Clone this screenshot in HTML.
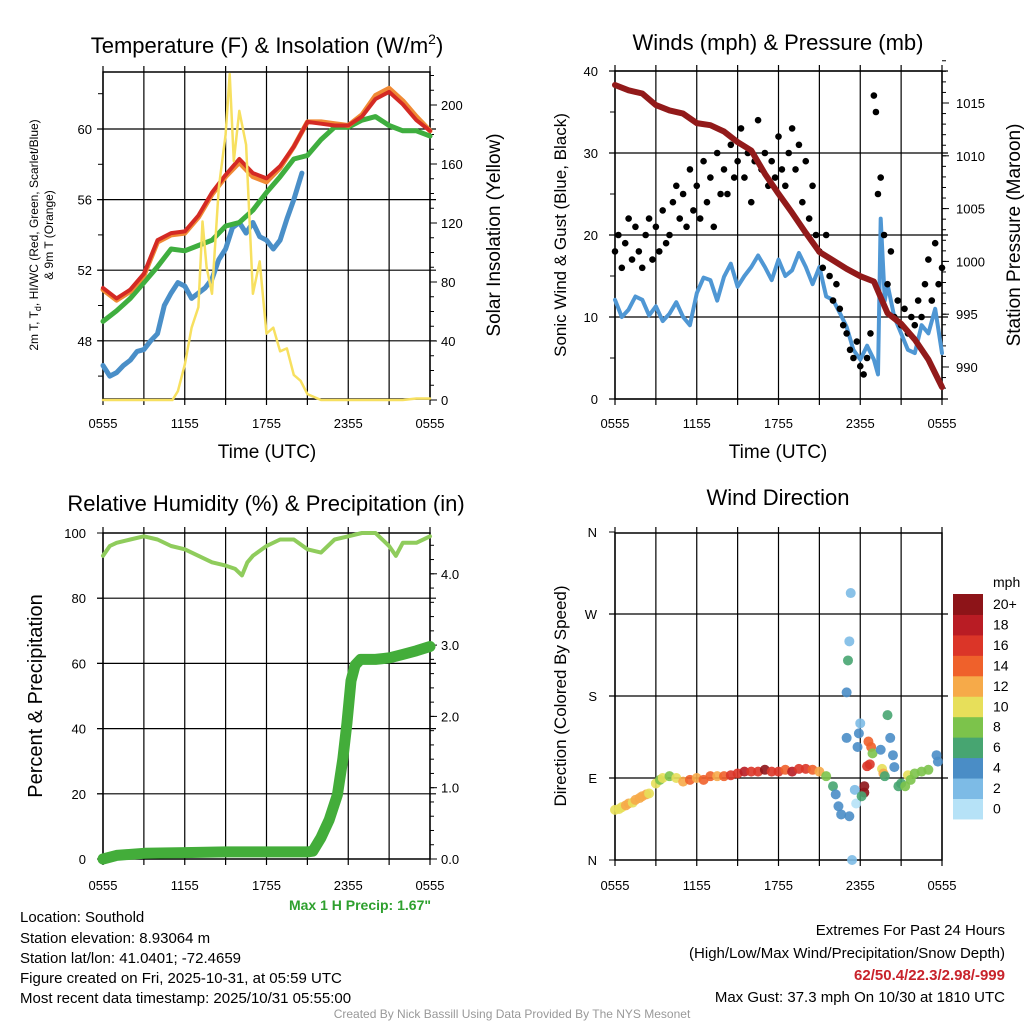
<!DOCTYPE html>
<html><head><meta charset="utf-8"><style>
html,body{margin:0;padding:0;background:#fff;}
svg{display:block;font-family:"Liberation Sans",sans-serif;}
</style></head><body>
<svg id="s" width="1024" height="1024" viewBox="0 0 1024 1024">
<rect x="0" y="0" width="1024" height="1024" fill="#fff"/>
<text x="267" y="53" font-size="22" text-anchor="middle">Temperature (F) &amp; Insolation (W/m<tspan font-size="14" dy="-9">2</tspan><tspan dy="9">)</tspan></text>
<text x="778" y="50" font-size="22" text-anchor="middle">Winds (mph) &amp; Pressure (mb)</text>
<text x="266" y="511" font-size="22" text-anchor="middle">Relative Humidity (%) &amp; Precipitation (in)</text>
<text x="778" y="505" font-size="22" text-anchor="middle">Wind Direction</text>
<text x="267" y="458" font-size="19" text-anchor="middle">Time (UTC)</text>
<text x="778" y="458" font-size="19" text-anchor="middle">Time (UTC)</text>
<text transform="translate(38,235) rotate(-90)" font-size="12" text-anchor="middle">2m T, T<tspan font-size="9" dy="3">d</tspan><tspan dy="-3">, HI/WC (Red, Green, Scarlet/Blue)</tspan></text>
<text transform="translate(53,235) rotate(-90)" font-size="12" text-anchor="middle">&amp; 9m T (Orange)</text>
<text transform="translate(500,235) rotate(-90)" font-size="19" text-anchor="middle">Solar Insolation (Yellow)</text>
<text transform="translate(566,235) rotate(-90)" font-size="17" text-anchor="middle">Sonic Wind &amp; Gust (Blue, Black)</text>
<text transform="translate(1020,235) rotate(-90)" font-size="19" text-anchor="middle">Station Pressure (Maroon)</text>
<text transform="translate(42,696) rotate(-90)" font-size="20" text-anchor="middle">Percent &amp; Precipitation</text>
<text transform="translate(566,696) rotate(-90)" font-size="17" text-anchor="middle">Direction (Colored By Speed)</text>
<text x="431" y="910" font-size="14" font-weight="bold" fill="#2ea02e" text-anchor="end">Max 1 H Precip: 1.67"</text>
<g font-size="15">
<text x="20" y="922">Location: Southold</text>
<text x="20" y="943">Station elevation: 8.93064 m</text>
<text x="20" y="963">Station lat/lon: 41.0401; -72.4659</text>
<text x="20" y="983">Figure created on Fri, 2025-10-31, at 05:59 UTC</text>
<text x="20" y="1003">Most recent data timestamp: 2025/10/31 05:55:00</text>
</g>
<g font-size="15" text-anchor="end">
<text x="1005" y="935">Extremes For Past 24 Hours</text>
<text x="1005" y="958">(High/Low/Max Wind/Precipitation/Snow Depth)</text>
<text x="1005" y="980" font-weight="bold" fill="#c8232b">62/50.4/22.3/2.98/-999</text>
<text x="1005" y="1002">Max Gust: 37.3 mph On 10/30 at 1810 UTC</text>
</g>
<text x="512" y="1018" font-size="12" fill="#999" text-anchor="middle">Created By Nick Bassill Using Data Provided By The NYS Mesonet</text>
<text x="993" y="587" font-size="14">mph</text>
</svg>
<script>
// ---- Temperature panel data (hours since 0555 UTC) ----
const hours = [0,1,2,3,4,5,6,7,8,9,10,11,12,13,14,15,16,17,18,19,20,21,22,23,24];
const tempRed = [51.0,50.4,50.9,51.8,53.7,54.1,54.2,55.1,56.4,57.4,58.3,57.5,57.2,57.9,59.0,60.4,60.3,60.2,60.2,60.7,61.7,62.1,61.4,60.5,59.9];
const tempOrange = [50.9,50.3,50.8,51.7,53.6,54.0,54.1,55.0,56.3,57.3,58.1,57.3,57.0,57.8,59.0,60.4,60.4,60.3,60.2,60.8,61.9,62.3,61.6,60.7,59.9];
const dewGreen = [49.1,49.7,50.4,51.3,52.2,53.2,53.1,53.4,53.7,54.5,54.7,55.4,56.4,57.3,58.3,58.5,59.4,60.1,60.1,60.5,60.7,60.2,59.9,59.9,59.6];
const hiBlueHours = [0,0.5,1,1.5,2,2.5,3,3.5,4,4.5,5,5.5,6,6.5,7,7.5,8,8.5,9,9.5,10,10.5,11,11.5,12,12.5,13,13.5,14,14.6];
const hiBlue = [46.6,46.0,46.2,46.6,46.9,47.4,47.5,48.0,48.4,50.0,50.7,51.3,51.1,50.4,50.7,51.0,51.5,52.6,53.2,54.4,54.7,54.1,54.7,53.9,53.7,53.2,53.7,54.9,56.0,57.5];
const solarHours = [0,5.1,5.5,6,6.5,7,7.3,7.6,8,8.5,9,9.3,9.6,10,10.5,11,11.5,12,12.5,13,13.5,14,14.5,15,16,22,23,24];
const solar = [0,0,6,24,49,63,121,90,72,144,180,221,162,196,173,72,94,45,49,33,35,17,13,4,0,0,1,1];
const tempTicks = [48,52,56,60];
const solarTicks = [0,40,80,120,160,200];
const timeTickLabels = ["0555","1155","1755","2355","0555"];
// ---- Wind panel data ----
const pressure = [1016.7,1016.2,1015.9,1014.8,1014.3,1014.0,1013.1,1012.9,1012.3,1011.3,1010.5,1008.3,1006.4,1004.6,1002.7,1000.9,1000.1,999.3,998.6,998.1,995.1,994.1,992.6,990.7,988.1];
const windHours = [0,0.5,1,1.5,2,2.5,3,3.5,4,4.5,5,5.5,6,6.5,7,7.5,8,8.5,9,9.5,10,10.5,11,11.5,12,12.5,13,13.5,14,14.5,15,15.5,16,16.5,17,17.5,18,18.5,19,19.3,19.5,19.8,20,20.5,21,21.5,22,22.5,23,23.5,24];
const windSpeed = [12.1,10.0,10.9,12.5,12.1,10.2,11.3,9.5,10.4,11.8,10.0,9.0,12.9,14.8,14.5,12.0,14.9,16.5,13.7,15.0,16.1,17.5,16.1,14.5,17.0,15.0,15.7,17.8,16.1,14.0,16.1,12.5,12.1,10.5,8.8,6.0,4.8,6.5,4.8,3.0,22.0,12.0,14.0,10.0,8.0,6.0,5.6,9.0,8.0,11.0,5.6];
const gustHours = [0,0.25,0.5,0.75,1,1.25,1.5,1.75,2,2.25,2.5,2.75,3,3.25,3.5,3.75,4,4.25,4.5,4.75,5,5.25,5.5,5.75,6,6.25,6.5,6.75,7,7.25,7.5,7.75,8,8.25,8.5,8.75,9,9.25,9.5,9.75,10,10.25,10.5,10.75,11,11.25,11.5,11.75,12,12.25,12.5,12.75,13,13.25,13.5,13.75,14,14.25,14.5,14.75,15,15.25,15.5,15.75,16,16.25,16.5,16.75,17,17.25,17.5,17.75,18,18.25,18.5,18.75,19,19.15,19.3,19.5,19.75,20,20.25,20.5,20.75,21,21.25,21.5,21.75,22,22.25,22.5,22.75,23,23.25,23.5,23.75,24];
const gust = [18,20,16,19,22,17,21,18,16,20,22,17,21,18,23,19,20,24,26,22,25,21,28,23,26,22,29,24,27,21,30,25,28,25,31,27,29,33,27,30,24,29,34,28,30,26,29,27,32,28,26,30,33,28,31,24,29,22,26,20,18,16,20,15,12,14,11,9,8,6,5,7,4,3,5,8,37,35,25,27,20,14,18,10,12,9,11,8,10,9,12,10,14,17,12,19,14,16,10,12];
const windTicks = [0,10,20,30,40];
const pressTicks = [990,995,1000,1005,1010,1015];
// ---- RH / precip data ----
const rhHours = [0,0.5,1,2,3,4,5,6,7,8,9,9.7,10.2,10.6,11,12,13,14,15,16,17,18,19,20,21,21.5,22,23,24];
const rh = [93,96,97,98,99,98,96,95,93,91,90,89,87,91,93,96,98,98,95,94,98,99,100,100,96,93,97,97,99];
const precipHours = [0,1,3,6,9,12,15,15.4,16,16.6,17.2,17.6,17.9,18.2,18.5,18.9,20,21,22,23,24];
const precip = [0,0.05,0.08,0.09,0.10,0.10,0.10,0.11,0.3,0.55,0.9,1.4,1.9,2.5,2.72,2.8,2.8,2.82,2.87,2.92,2.98];
const rhTicks = [0,20,40,60,80,100];
const precipTicks = ["0.0","1.0","2.0","3.0","4.0"];
// ---- Wind direction data ----
const dirHours = [0,0.3,0.5,0.8,1,1.3,1.5,1.8,2,2.3,2.5,3,3.3,3.5,4,4.5,5,5.5,6,6.5,7,7.5,8,8.5,9,9.5,10,10.5,11,11.5,12,12.5,13,13.5,14,14.5,15,15.5,16,16.2,16.4,16.6,17.2,17.4,17.0,17.0,17.1,17.2,17.3,17.7,17.6,18.0,17.9,17.8,18.3,18.3,18.1,18.6,18.8,18.9,18.5,18.7,19.5,19.6,19.7,19.8,20.0,20.2,20.4,20.5,20.8,21,21.3,21.5,21.7,22,22.5,23,23.6,23.7];
const dirDeg = [55,56,58,60,62,63,66,68,70,72,73,84,88,90,92,90,86,88,90,88,92,92,92,93,95,97,97,97,99,97,97,99,97,100,100,99,97,92,81,72,59,50,48,0,134,184,219,240,293,62,77,150,139,124,81,74,70,130,124,117,103,105,121,100,95,92,159,134,115,102,81,84,81,93,88,95,97,99,115,108];
const dirSpeed = [11,10,10,12,12,11,12,13,13,12,11,10,9,10,9,11,13,14,13,14,15,13,15,16,17,18,16,17,20,16,16,15,18,17,16,14,12,8,6,4,4,4,4,2,4,4,6,2,2,1,2,2,4,4,20,20,7,14,14,8,16,16,4,10,12,6,6,4,4,4,6,6,8,10,8,8,8,8,4,4];
const dirLabels = ["N","E","S","W","N"];
const speedBins = ["0","2","4","6","8","10","12","14","16","18","20+"];
const binColors = ["#b6e2f7","#7dbbe6","#4a8dc6","#47a571","#7cc34b","#e7df5a","#f6aa49","#ef612b","#db3528","#b91c24","#8d1418"];

const svg = document.getElementById('s');
const NS = 'http://www.w3.org/2000/svg';
function mk(tag, attrs, name, parent) {
  const el = document.createElementNS(NS, tag);
  for (const k in attrs) el.setAttribute(k, attrs[k]);
  
  
  (parent || svg).appendChild(el);
  return el;
}
function txt(x, y, s, anchor, size, name, extra) {
  const t = mk('text', Object.assign({x: x, y: y, 'font-size': size, 'text-anchor': anchor}, extra || {}), name);
  t.textContent = s;
  return t;
}
function poly(xs, ys, fx, fy, stroke, w, name) {
  const pts = xs.map((h, i) => fx(h).toFixed(1) + ',' + fy(ys[i]).toFixed(1)).join(' ');
  return mk('polyline', {points: pts, fill: 'none', stroke: stroke, 'stroke-width': w, 'stroke-linejoin': 'round', 'stroke-linecap': 'round'}, name);
}
function frame(L, T, R, B, name) {
  const g = mk('g', {}, name + '-grid');
  for (let i = 0; i <= 8; i++) {
    const x = L + (R - L) * i / 8;
    mk('line', {x1: x, y1: T - 6, x2: x, y2: B + 6, stroke: '#000', 'stroke-width': 1.2}, name + '-vgrid', g);
  }
  mk('rect', {x: L, y: T, width: R - L, height: B - T, fill: 'none', stroke: '#000', 'stroke-width': 1.5}, name + '-frame', g);
}
function hgrid(L, R, y, name) {
  mk('line', {x1: L - 6, y1: y, x2: R + 6, y2: y, stroke: '#000', 'stroke-width': 1.2}, name);
}
function timeLabels(L, R, y, name) {
  timeTickLabels.forEach((s, i) => txt(L + (R - L) * i / 4, y, s, 'middle', 13, name));
}

// ===== Panel 1 =====
const x1 = h => 103 + h * 327 / 24;
const yT = t => 129 + (60 - t) * 17.65;
const yS = w => 400 - w * 59 / 40;
frame(103, 72, 430, 399, 'temp-panel');
tempTicks.forEach(t => { hgrid(103, 430, yT(t), 'temp-hgrid'); txt(92, yT(t) + 5, String(t), 'end', 13, 'temp-tick-label'); });
for (let t = 46; t <= 62; t += 2) mk('line', {x1: 98, y1: yT(t), x2: 103, y2: yT(t), stroke: '#000'}, 'temp-minor-tick');
solarTicks.forEach(w => { mk('line', {x1: 430, y1: yS(w), x2: 437, y2: yS(w), stroke: '#000'}, 'solar-tick'); txt(441, yS(w) + 5, String(w), 'start', 13, 'solar-tick-label'); });
for (let w = 10; w <= 220; w += 10) mk('line', {x1: 430, y1: yS(w), x2: 434, y2: yS(w), stroke: '#000'}, 'solar-minor-tick');
timeLabels(103, 430, 428, 'temp-time-label');
poly(hiBlueHours, hiBlue, x1, yT, '#4a8fc8', 5, 'hi-wc-line');
poly(hours, dewGreen, x1, yT, '#3fae3f', 5, 'dewpoint-line');
poly(hours, tempOrange, x1, yT, '#f08a35', 5, 'temp-9m-line');
poly(hours, tempRed, x1, yT, '#d42a24', 4, 'temp-2m-line');
poly(solarHours, solar, x1, yS, '#f7e060', 2.5, 'insolation-line');

// ===== Panel 2 =====
const x2 = h => 615 + h * 327 / 24;
const yW = m => 399 - m * 8.2;
const yP = p => 367 - (p - 990) * 10.56;
frame(615, 71, 942, 399, 'wind-panel');
windTicks.forEach(m => { hgrid(615, 942, yW(m), 'wind-hgrid'); txt(598, yW(m) + 5, String(m), 'end', 13, 'wind-tick-label'); });
for (let m = 5; m <= 35; m += 10) mk('line', {x1: 610, y1: yW(m), x2: 615, y2: yW(m), stroke: '#000'}, 'wind-minor-tick');
pressTicks.forEach(p => { mk('line', {x1: 942, y1: yP(p), x2: 949, y2: yP(p), stroke: '#000'}, 'pressure-tick'); txt(956, yP(p) + 5, String(p), 'start', 13, 'pressure-tick-label'); });
for (let p = 988; p <= 1019; p++) mk('line', {x1: 942, y1: yP(p), x2: 946, y2: yP(p), stroke: '#000'}, 'pressure-minor-tick');
timeLabels(615, 942, 428, 'wind-time-label');
poly(windHours, windSpeed, x2, yW, '#4f97d4', 4, 'sonic-wind-line');
gustHours.forEach((h, i) => {
  const c = mk('circle', {cx: x2(h), cy: yW(gust[i]), r: 3.3, fill: '#000'}, 'gust-point');
});
poly(hours, pressure, x2, yP, '#921a1a', 6, 'pressure-line');

// ===== Panel 3 =====
const yR = r => 859 - r * 3.26;
const yIn = v => 859 - v * 71.3;
frame(103, 533, 430, 859, 'rh-panel');
rhTicks.forEach(r => { if (r > 0 && r < 100) hgrid(103, 430, yR(r), 'rh-hgrid'); txt(86, yR(r) + 5, String(r), 'end', 13, 'rh-tick-label'); mk('line', {x1: 97, y1: yR(r), x2: 103, y2: yR(r), stroke: '#000'}, 'rh-tick'); });
precipTicks.forEach(s => { const v = parseFloat(s); mk('line', {x1: 430, y1: yIn(v), x2: 437, y2: yIn(v), stroke: '#000'}, 'precip-tick'); txt(441, yIn(v) + 5, s, 'start', 13, 'precip-tick-label'); });
for (let v = 0.2; v < 4.5; v += 0.2) mk('line', {x1: 430, y1: yIn(v), x2: 434, y2: yIn(v), stroke: '#000'}, 'precip-minor-tick');
timeLabels(103, 430, 890, 'rh-time-label');
poly(rhHours, rh, x1, yR, '#8fcc5c', 4, 'rh-line');
poly(precipHours, precip, x1, yIn, '#43ad3a', 11, 'precip-line');

// ===== Panel 4 =====
const yD = d => 860 - d * 82 / 90;
frame(615, 533, 942, 860, 'wdir-panel');
dirLabels.forEach((s, i) => { const d = [0, 90, 180, 270, 360][i]; if (i > 0 && i < 4) hgrid(615, 942, yD(d), 'wdir-hgrid'); mk('line', {x1: 609, y1: yD(d), x2: 615, y2: yD(d), stroke: '#000'}, 'wdir-tick'); txt(597, yD(d) + 5, s, 'end', 13, 'wdir-tick-label'); });
timeLabels(615, 942, 890, 'wdir-time-label');
function binOf(s) { return Math.min(10, Math.floor(s / 2)); }
dirHours.forEach((h, i) => {
  const c = mk('circle', {cx: x2(h), cy: yD(dirDeg[i]), r: 5, fill: binColors[binOf(dirSpeed[i])], 'fill-opacity': 0.9}, 'wdir-point');
});
// colorbar
const cbTop = 594, cbH = 20.45;
speedBins.forEach((s, i) => {
  const k = 10 - i;
  mk('rect', {x: 953, y: cbTop + k * cbH, width: 30, height: cbH + 0.5, fill: binColors[i]}, 'colorbar-box');
  txt(993, cbTop + k * cbH + 15, s, 'start', 14, 'colorbar-label');
});
</script>
</body></html>
